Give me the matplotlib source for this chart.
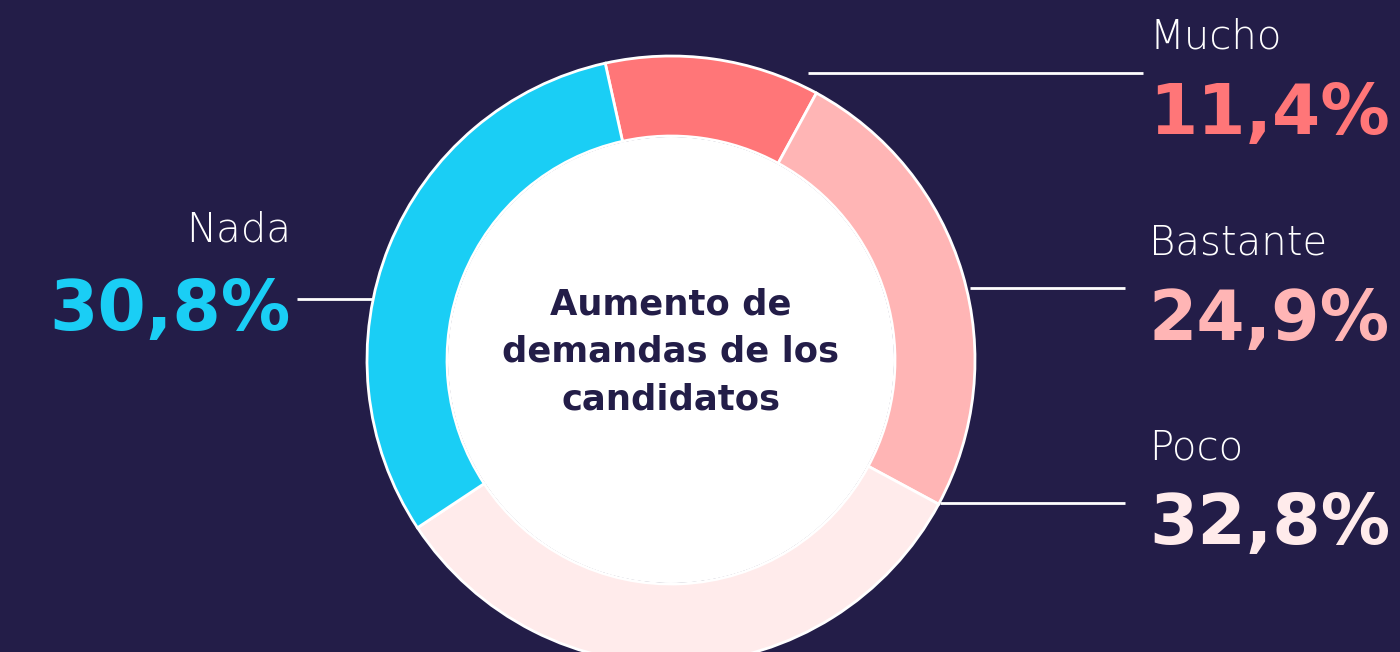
import matplotlib
matplotlib.use("Agg")
import matplotlib.pyplot as plt
from matplotlib.patches import Circle
import numpy as np

# ---- data ----
categories = ["Mucho", "Bastante", "Poco", "Nada"]
values = [11.4, 24.9, 32.8, 30.8]
value_labels = ["11,4%", "24,9%", "32,8%", "30,8%"]
center_title = "Aumento de\ndemandas de los\ncandidatos"

# ---- style ----
BG = "#231D48"
colors = ["#FF7678", "#FFB5B5", "#FFEBEB", "#1ACEF5"]
W, H = 1400, 652

fig = plt.figure(figsize=(W / 100, H / 100), dpi=100, facecolor=BG)
ax = fig.add_axes([0, 0, 1, 1])
ax.set_facecolor(BG)

cx, cy = 671, H - 360
R_out, R_in = 304, 224

ax.pie(values, colors=colors, center=(cx, cy), radius=R_out,
       startangle=102.5, counterclock=False,
       wedgeprops=dict(width=R_out - R_in, edgecolor="white", linewidth=2))
ax.add_patch(Circle((cx, cy), R_in - 1, facecolor="white", edgecolor="none", zorder=3))

ax.text(cx, H - 352, center_title, ha="center", va="center", fontsize=25.5,
        fontweight="bold", color="#231D48", family="DejaVu Sans",
        linespacing=1.5, zorder=4)

# label layout: (line y in image px, line x0, line x1, text x, ha, label y, value y)
layout = {
    "Mucho":    dict(ly=73,  x0=808, x1=1143, tx=1149, ha="left",  lab=37,  val=115),
    "Bastante": dict(ly=288, x0=970, x1=1125, tx=1149, ha="left",  lab=243, val=320),
    "Poco":     dict(ly=503, x0=940, x1=1125, tx=1149, ha="left",  lab=448, val=525),
    "Nada":     dict(ly=299, x0=297, x1=372,  tx=291,  ha="right", lab=230, val=310),
}

for cat, lab, col in zip(categories, value_labels, colors):
    L = layout[cat]
    ax.plot([L["x0"], L["x1"]], [H - L["ly"], H - L["ly"]], color="white", lw=2,
            solid_capstyle="butt", zorder=2)
    ax.text(L["tx"], H - L["lab"], cat, ha=L["ha"], va="center", fontsize=29,
            color="white", family="DejaVu Sans", fontweight="light")
    ax.text(L["tx"], H - L["val"], lab, ha=L["ha"], va="center", fontsize=50,
            color=col, family="DejaVu Sans", fontweight="bold")

ax.set_xlim(0, W)
ax.set_ylim(0, H)
ax.set_aspect("equal")
ax.axis("off")

fig.savefig("out.png", dpi=100, facecolor=BG)
